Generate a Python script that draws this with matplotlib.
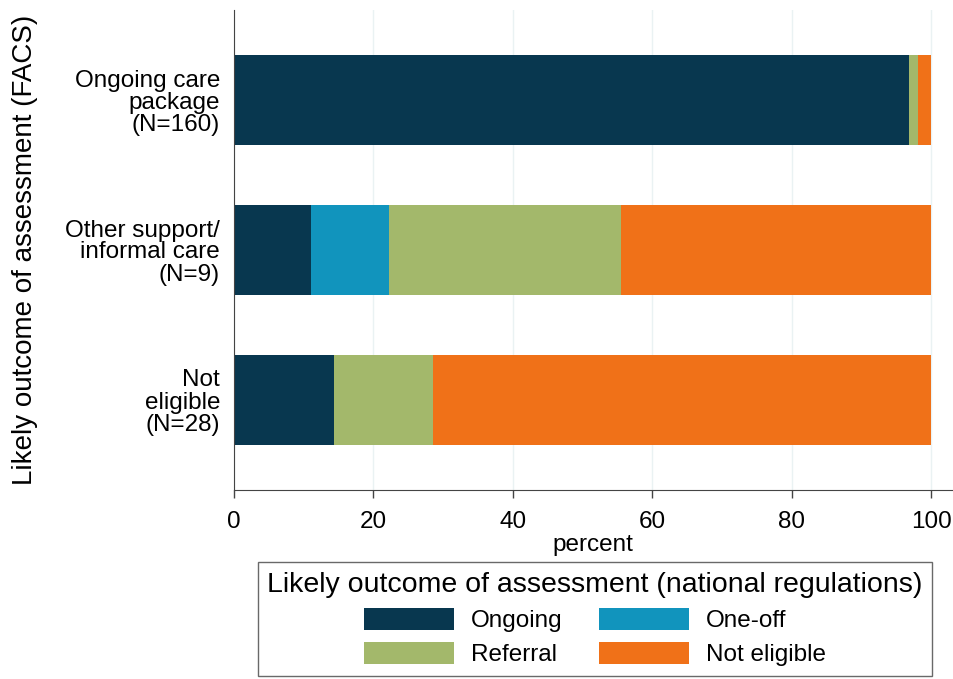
import numpy as np
import matplotlib.pyplot as plt
from matplotlib.patches import Patch

plt.rcParams['font.family'] = ['Liberation Sans', 'DejaVu Sans']

# FACS categories (top to bottom)
groups = ["Ongoing care\npackage\n(N=160)", "Other support/\ninformal care\n(N=9)", "Not\neligible\n(N=28)"]
outcomes = ["Ongoing", "One-off", "Referral", "Not eligible"]
colors = ["#08374f", "#1194bd", "#a3b86b", "#f07118"]

# percent of each group by national-regulations outcome
ongoing = [96.875, 11.11, 14.29]
one_off = [0.0, 11.11, 0.0]
referral = [1.25, 33.33, 14.29]
not_eligible = [1.875, 44.44, 71.43]
series = [ongoing, one_off, referral, not_eligible]

fig = plt.figure(figsize=(9.54, 6.79), dpi=100)
ax = fig.add_axes([234 / 954, 1 - 490 / 679, 718 / 954, 480 / 679])

ypos = np.arange(len(groups))
left = np.zeros(len(groups))
for vals, col in zip(series, colors):
    ax.barh(ypos, vals, left=left, height=0.6, color=col, edgecolor='none')
    left = left + np.array(vals)

ax.set_ylim(2.6, -0.6)
ax.set_xlim(0, 103)
ax.set_yticks(ypos)
ax.set_yticklabels(groups, fontsize=17.5, linespacing=1.0)
ax.set_xticks([0, 20, 40, 60, 80, 100])
ax.tick_params(axis='x', labelsize=17.5, length=6, width=1, color='#444444', pad=9)
ax.tick_params(axis='y', length=0, pad=10)
ax.set_xlabel("percent", fontsize=17.5, labelpad=1)
fig.text(25 / 954, 1 - 250 / 679, "Likely outcome of assessment (FACS)", rotation=90,
         ha='center', va='center', fontsize=20)
ax.grid(axis='x', color='#eaf2f3', linewidth=1)
ax.set_axisbelow(True)
ax.spines['top'].set_visible(False)
ax.spines['right'].set_visible(False)
ax.spines['left'].set_color('#444444')
ax.spines['bottom'].set_color('#444444')

# legend order filled column-wise
order = [0, 2, 1, 3]
handles = [Patch(facecolor=colors[i], edgecolor='none', label=outcomes[i]) for i in order]
leg = fig.legend(handles=handles, ncol=2, loc='center',
                 bbox_to_anchor=(595 / 954, 1 - 619 / 679),
                 title="Likely outcome of assessment (national regulations)",
                 title_fontsize=20.5, fontsize=17.5, frameon=True, fancybox=False,
                 edgecolor='#444444', handlelength=3.7, handleheight=1.0,
                 columnspacing=1.5, labelspacing=0.42, borderpad=0.4, handletextpad=0.7)
leg.get_frame().set_linewidth(1)

fig.savefig("out.png", dpi=100)
